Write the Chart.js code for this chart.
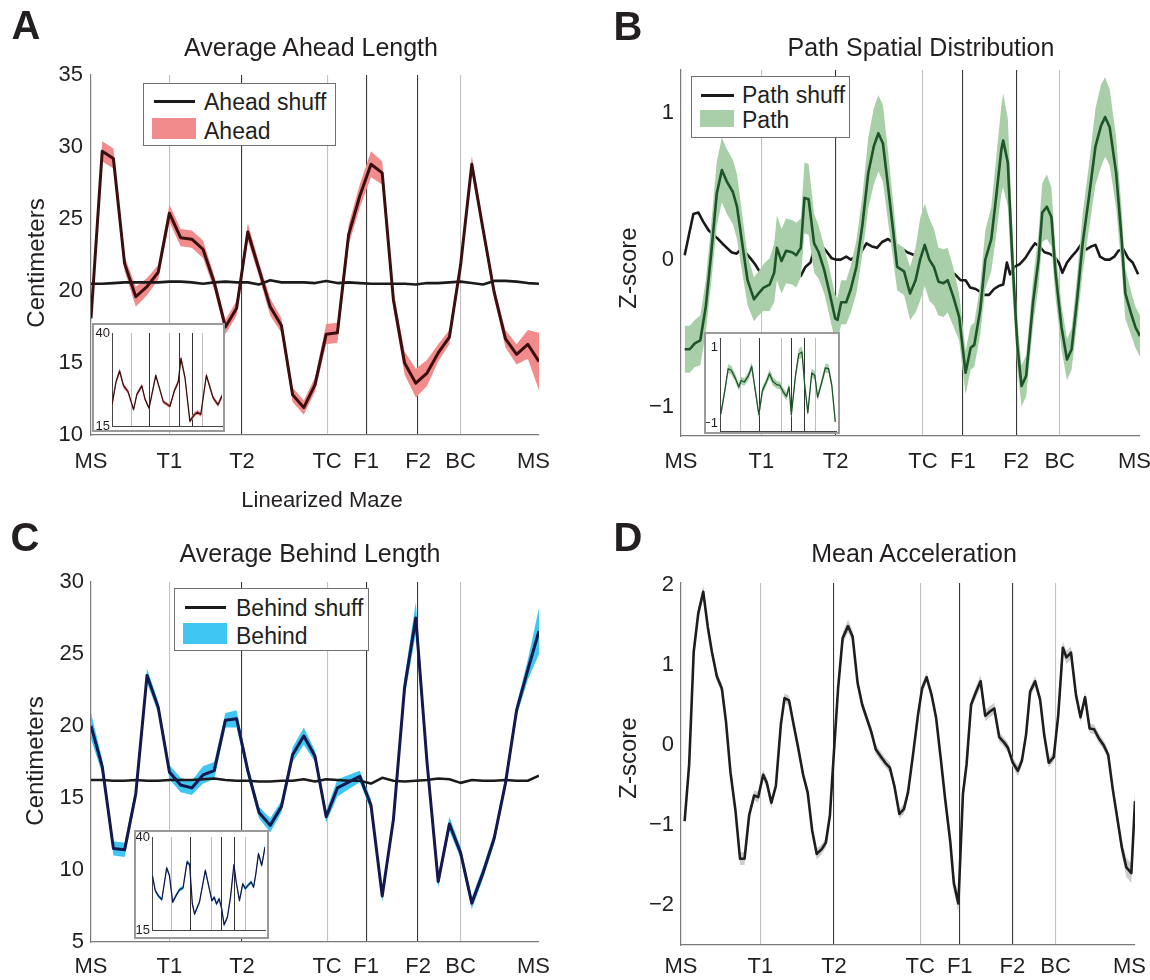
<!DOCTYPE html>
<html lang="en">
<head>
<meta charset="utf-8">
<title>Linearized maze summary</title>
<script src="https://cdn.jsdelivr.net/npm/chart.js@4.4.1/dist/chart.umd.min.js"></script>
<style>
  html, body { margin: 0; padding: 0; background: #fff; }
  #fig { position: relative; width: 1150px; height: 980px; overflow: hidden; background: #fff;
         font-family: "Liberation Sans", Arial, Helvetica, sans-serif; color: #231f20; }
  #fig > canvas { position: absolute; }
  .txt { position: absolute; line-height: 1; white-space: nowrap; transform: translate(-50%, -50%); }
  .letter { font-weight: bold; font-size: 40px; }
  .ptitle { font-size: 25px; }
  .ytitle { font-size: 24px; transform: translate(-50%, -50%) rotate(-90deg); }
  .xtitle { font-size: 22px; }
  .legend { position: absolute; box-sizing: border-box; border: 1.5px solid #707070; background: #fff; }
  .legend .s { position: absolute; }
  .legend .t { position: absolute; font-size: 23px; line-height: 1; white-space: nowrap; transform: translateY(-50%); }
  .inset { position: absolute; box-sizing: border-box; border: 2px solid #9a9a9a; background: #fff; }
  .inset canvas { position: absolute; left: 0; top: 0; }
</style>
</head>
<body>
<div id="fig">
  <canvas id="chartA" width="575" height="510" style="left:0px;top:0px"></canvas>
  <canvas id="chartB" width="575" height="490" style="left:575px;top:0px"></canvas>
  <canvas id="chartC" width="575" height="475" style="left:0px;top:505px"></canvas>
  <canvas id="chartD" width="575" height="475" style="left:575px;top:505px"></canvas>

  <div class="inset" style="left:92px;top:323px;width:133px;height:109px"><canvas id="insetA" width="129" height="105"></canvas></div>
  <div class="inset" style="left:704px;top:332px;width:136px;height:102px"><canvas id="insetB" width="132" height="98"></canvas></div>
  <div class="inset" style="left:134px;top:830px;width:135px;height:109px"><canvas id="insetC" width="131" height="105"></canvas></div>

  <div class="txt letter" style="left:26px;top:25px">A</div>
  <div class="txt letter" style="left:628px;top:26px">B</div>
  <div class="txt letter" style="left:25px;top:537px">C</div>
  <div class="txt letter" style="left:628px;top:537px">D</div>

  <div class="txt ptitle" style="left:311px;top:47px">Average Ahead Length</div>
  <div class="txt ptitle" style="left:921px;top:47px">Path Spatial Distribution</div>
  <div class="txt ptitle" style="left:310px;top:553px">Average Behind Length</div>
  <div class="txt ptitle" style="left:914px;top:553px">Mean Acceleration</div>

  <div class="txt ytitle" style="left:36px;top:263px">Centimeters</div>
  <div class="txt ytitle" style="left:628px;top:268px">Z-score</div>
  <div class="txt ytitle" style="left:35px;top:761px">Centimeters</div>
  <div class="txt ytitle" style="left:628px;top:758px">Z-score</div>
  <div class="txt xtitle" style="left:322px;top:500px">Linearized Maze</div>

  <div class="legend" style="left:143px;top:83px;width:193px;height:63px">
    <span class="s" style="left:10px;top:16px;width:41px;height:3px;background:#1a1a1a"></span>
    <span class="t" style="left:60px;top:18px">Ahead shuff</span>
    <span class="s" style="left:8px;top:34px;width:44px;height:21px;background:#f28b8b"></span>
    <span class="t" style="left:60px;top:47px">Ahead</span>
  </div>
  <div class="legend" style="left:691px;top:76px;width:159px;height:62px">
    <span class="s" style="left:9px;top:17px;width:33px;height:3px;background:#1a1a1a"></span>
    <span class="t" style="left:50px;top:18px">Path shuff</span>
    <span class="s" style="left:8px;top:33px;width:34px;height:17px;background:#a9cfa9"></span>
    <span class="t" style="left:50px;top:43px">Path</span>
  </div>
  <div class="legend" style="left:174px;top:588px;width:195px;height:63px">
    <span class="s" style="left:10px;top:17px;width:41px;height:3px;background:#1a1a1a"></span>
    <span class="t" style="left:61px;top:19px">Behind shuff</span>
    <span class="s" style="left:8px;top:34px;width:44px;height:21px;background:#3fc6f3"></span>
    <span class="t" style="left:61px;top:47px">Behind</span>
  </div>
</div>

<script>
// ---- maze landmarks (percent of the linearized track) ----
const landmarkPos    = [0, 17.5, 33.7, 52.7, 61.4, 73.0, 82.5, 100];
const landmarkLabels = ['MS', 'T1', 'T2', 'TC', 'F1', 'F2', 'BC', 'MS'];
const landmarkDark   = [false, false, true, false, true, true, false, false];

// ---- A: average ahead length (cm), 41 spatial bins ----
const aheadMean  = [18.1,29.7,29.2,21.9,19.6,20.3,21.3,25.4,23.7,23.6,
                    22.9,20.6,17.5,18.8,24.1,21.5,18.9,17.6,12.8,11.9,
                    13.5,17.0,17.1,23.9,26.6,28.8,28.2,19.4,15.0,13.6,
                    14.3,15.7,16.8,21.8,28.8,24.3,19.9,16.7,15.6,16.3,15.1];
const aheadErr   = [0.3,0.7,0.7,0.5,0.7,0.6,0.5,0.6,0.6,0.6,
                    0.6,0.5,0.5,0.5,0.6,0.5,0.6,0.5,0.5,0.5,
                    0.5,0.7,0.7,0.7,0.8,0.9,0.8,0.6,0.8,1.0,
                    0.9,0.6,0.5,0.4,0.6,0.4,0.4,0.6,0.7,1.0,2.0];
const aheadShuff = [20.5,20.5,20.55,20.6,20.6,20.6,20.6,20.65,20.65,20.6,
                    20.5,20.6,20.65,20.6,20.6,20.45,20.75,20.6,20.6,20.6,
                    20.55,20.7,20.55,20.6,20.55,20.5,20.5,20.5,20.5,20.45,
                    20.55,20.55,20.6,20.65,20.55,20.45,20.7,20.7,20.65,20.55,20.5];

// ---- B: path spatial distribution (z-score) ----
const pathPos  = [0.8,1.9,3.0,4.2,5.4,6.6,7.8,8.9,10.0,11.3,
                  12.2,13.2,14.5,15.9,16.9,18.0,19.3,20.3,20.9,21.9,
                  22.9,24.2,25.1,26.1,26.9,27.8,29.0,30.0,31.2,32.4,
                  33.6,34.1,34.9,36.0,37.0,38.2,39.5,40.8,42.0,43.0,
                  44.0,45.1,46.1,47.1,48.6,49.9,51.1,52.1,53.1,54.1,
                  55.1,56.1,57.2,58.1,59.3,60.6,62.0,63.1,63.9,65.2,
                  66.3,67.6,68.6,69.8,70.2,71.2,72.2,73.3,74.2,75.2,
                  76.7,77.9,78.7,79.7,80.7,81.6,82.9,84.1,85.1,86.3,
                  87.5,88.9,90.3,91.5,92.4,93.4,94.8,96.0,96.8,98.0,99.0,100];
const pathMean = [-0.61,-0.61,-0.57,-0.55,-0.32,0.05,0.45,0.61,0.53,0.46,
                  0.36,0.14,-0.14,-0.27,-0.23,-0.19,-0.17,-0.09,0.08,-0.01,
                  0.06,0.05,0.03,0.08,0.42,0.41,0.11,0.05,-0.07,-0.23,
                  -0.40,-0.41,-0.29,-0.29,-0.20,-0.05,0.23,0.59,0.77,0.86,
                  0.79,0.50,0.23,-0.05,-0.08,-0.23,-0.14,0.0,0.10,0.0,
                  -0.05,-0.15,-0.16,-0.14,-0.25,-0.39,-0.77,-0.60,-0.58,-0.34,
                  0.0,0.14,0.41,0.75,0.81,0.66,0.0,-0.59,-0.86,-0.79,
                  -0.29,0.0,0.32,0.36,0.29,-0.09,-0.46,-0.68,-0.61,-0.27,
                  0.11,0.43,0.77,0.91,0.97,0.90,0.59,0.14,-0.23,-0.36,-0.46,-0.52];
const pathErr  = [0.16,0.16,0.16,0.17,0.18,0.2,0.22,0.22,0.22,0.22,
                  0.22,0.2,0.17,0.15,0.15,0.16,0.18,0.2,0.22,0.22,
                  0.22,0.22,0.22,0.2,0.24,0.24,0.2,0.18,0.16,0.16,
                  0.16,0.15,0.15,0.15,0.16,0.18,0.2,0.24,0.26,0.26,
                  0.26,0.24,0.2,0.16,0.16,0.18,0.22,0.28,0.28,0.28,
                  0.26,0.23,0.23,0.22,0.2,0.16,0.15,0.15,0.15,0.17,
                  0.2,0.22,0.26,0.3,0.32,0.3,0.22,0.16,0.14,0.14,
                  0.16,0.18,0.2,0.22,0.2,0.17,0.15,0.14,0.14,0.16,
                  0.2,0.22,0.26,0.28,0.27,0.26,0.24,0.2,0.17,0.15,0.14,0.14];
const pathShuffPos = [0.8,1.8,2.7,3.8,4.8,6.0,7.0,8.1,9.0,10.0,
                      11.0,12.1,13.0,14.0,15.1,16.1,17.1,19.1,21.1,23.1,
                      25.1,26.1,27.1,28.2,29.1,30.4,31.6,32.8,33.8,34.8,
                      36.0,37.0,38.0,39.2,40.4,41.6,42.7,43.8,45.1,46.9,
                      49.3,51.7,54.1,56.5,58.1,59.7,60.9,62.0,63.0,64.2,
                      65.2,66.2,67.1,68.2,69.2,70.2,71.0,71.7,72.6,73.8,
                      75.0,76.2,77.1,78.1,79.2,80.3,81.3,82.3,83.1,84.1,
                      85.1,86.2,87.1,88.3,89.4,90.3,91.3,92.4,93.4,94.4,
                      95.3,96.4,97.4,98.4,99.6];
const pathShuff = [0.03,0.18,0.31,0.32,0.26,0.20,0.17,0.14,0.11,0.08,
                   0.05,0.04,0.07,0.05,0.01,-0.03,-0.08,-0.10,-0.12,-0.13,
                   -0.12,-0.11,-0.05,-0.02,0.08,0.10,0.06,0.01,0.0,0.0,
                   0.02,0.0,0.02,0.05,0.11,0.09,0.08,0.12,0.14,0.10,
                   0.05,0.02,-0.02,-0.05,-0.08,-0.10,-0.14,-0.14,-0.19,-0.20,
                   -0.22,-0.24,-0.24,-0.20,-0.18,-0.17,-0.02,-0.10,-0.05,-0.03,
                   0.01,0.07,0.11,0.09,0.05,0.04,0.02,-0.02,-0.09,-0.02,
                   0.02,0.06,0.10,0.07,0.09,0.10,0.02,0.0,0.0,0.02,
                   0.06,0.07,0.01,-0.02,-0.10];

// ---- C: average behind length (cm), 41 spatial bins ----
const behindMean  = [20.0,17.2,11.5,11.4,15.3,23.5,21.3,16.8,15.9,15.7,
                     16.6,16.9,20.4,20.5,16.9,14.0,13.1,14.4,18.0,19.3,
                     17.9,13.7,15.7,16.1,16.5,14.5,8.2,13.5,22.7,27.5,
                     17.5,9.2,13.2,11.2,7.7,9.8,12.2,16.0,21.1,23.9,26.6];
const behindErr   = [0.9,0.5,0.5,0.5,0.4,0.5,0.4,0.5,0.5,0.5,
                     0.6,0.6,0.5,0.6,0.4,0.4,0.5,0.4,0.5,0.6,
                     0.4,0.4,0.6,0.5,0.4,0.4,0.4,0.4,0.7,1.1,
                     0.5,0.4,0.5,0.4,0.4,0.4,0.4,0.4,0.4,0.7,1.6];
const behindShuff = [16.25,16.25,16.2,16.2,16.25,16.2,16.2,16.25,16.25,16.25,
                     16.3,16.35,16.25,16.2,16.2,16.15,16.15,16.2,16.2,16.3,
                     16.15,16.3,16.25,16.2,16.2,16.0,16.4,16.2,16.15,16.2,
                     16.25,16.35,16.3,16.05,16.25,16.2,16.2,16.25,16.2,16.2,16.55];

// ---- D: mean acceleration (z-score) ----
const accelPos  = [0.8,1.8,2.8,3.8,4.9,5.9,6.8,7.9,9.0,9.9,
                   10.9,12.0,13.0,14.0,15.0,16.1,17.0,18.1,18.9,19.9,
                   20.9,22.0,22.8,23.8,24.8,25.8,26.9,27.9,28.9,29.9,
                   31.0,31.9,32.8,33.6,34.6,35.6,36.8,37.8,38.9,39.9,
                   40.9,41.9,42.9,44.0,45.0,46.0,47.0,48.1,49.1,50.0,
                   51.1,52.2,53.1,54.1,55.2,56.2,57.2,58.2,59.3,60.1,
                   61.1,62.1,62.9,63.9,65.0,66.0,67.0,68.0,69.0,70.1,
                   71.1,72.0,73.1,74.2,75.1,76.0,76.9,78.0,79.1,80.0,
                   81.0,82.1,83.1,84.1,84.9,85.9,87.0,88.0,89.0,90.0,
                   91.0,92.1,93.1,94.1,95.1,96.2,97.1,98.1,99.2,100];
const accelMean = [-0.95,-0.24,1.17,1.65,1.92,1.48,1.17,0.86,0.71,0.30,
                   -0.34,-0.82,-1.42,-1.42,-0.88,-0.63,-0.65,-0.37,-0.47,-0.72,
                   -0.51,0.26,0.59,0.56,0.26,-0.03,-0.37,-0.59,-1.07,-1.36,
                   -1.30,-1.22,-0.88,-0.16,0.71,1.34,1.49,1.36,0.78,0.51,
                   0.34,0.17,-0.05,-0.14,-0.22,-0.28,-0.51,-0.86,-0.80,-0.59,
                   -0.12,0.38,0.71,0.85,0.63,0.34,-0.16,-0.68,-1.20,-1.73,
                   -1.98,-0.61,-0.24,0.51,0.67,0.80,0.37,0.42,0.46,0.10,
                   0.04,-0.03,-0.22,-0.32,-0.19,0.13,0.67,0.80,0.57,0.13,
                   -0.22,-0.15,0.38,1.22,1.10,1.16,0.63,0.35,0.60,0.21,
                   0.20,0.08,0.0,-0.12,-0.55,-0.95,-1.28,-1.53,-1.60,-0.70];
const accelErr  = [0.08,0.06,0.07,0.07,0.08,0.07,0.06,0.06,0.06,0.06,
                   0.06,0.07,0.08,0.08,0.07,0.06,0.07,0.06,0.07,0.07,
                   0.06,0.06,0.06,0.06,0.06,0.06,0.06,0.06,0.07,0.07,
                   0.06,0.06,0.06,0.06,0.06,0.07,0.08,0.07,0.06,0.06,
                   0.06,0.06,0.06,0.06,0.06,0.06,0.06,0.06,0.06,0.06,
                   0.06,0.06,0.06,0.06,0.06,0.06,0.06,0.07,0.08,0.1,
                   0.12,0.08,0.07,0.06,0.07,0.08,0.07,0.07,0.07,0.06,
                   0.06,0.06,0.06,0.07,0.06,0.06,0.06,0.07,0.06,0.06,
                   0.06,0.06,0.07,0.08,0.08,0.08,0.07,0.06,0.07,0.06,
                   0.06,0.06,0.06,0.06,0.07,0.08,0.1,0.12,0.12,0.15];

// ---- insets ----
const insetAheadPos = [0,3.6,6.9,10.5,14.5,19.6,22.6,27.1,30.1,33.7,39.8,46.7,52.7,
                       56.6,60.2,62.7,66.3,70.8,74.7,77.7,80.7,85.8,91.9,96.4,100];
const insetAheadVal = [20.7,26.8,29.8,25.8,24.3,19.4,23.5,25.8,22.1,19.8,28.6,21.5,20.3,
                       24.4,26.8,33.2,28.1,16.3,18.0,18.7,18.1,28.6,22.6,20.7,23.1];
const insetAheadErr = [0.5,0.6,0.8,0.7,0.6,0.5,0.6,0.6,0.5,0.5,0.6,0.5,0.5,
                       0.6,0.8,0.9,0.7,0.6,0.6,0.6,0.6,0.7,0.6,0.6,0.8];

const insetPathPos = [0.8,4.2,7.0,9.8,13.4,16.2,18.2,20.9,24.6,27.4,30.2,33.5,36.6,39.9,42.7,45.5,48.9,51.7,
                      54.5,57.3,59.5,61.5,65.1,67.9,70.7,72.9,75.7,79.1,81.8,84.1,87.4,90.8,93.6,96.4,99.4];
const insetPathVal = [-0.75,-0.14,0.43,0.39,0.17,-0.05,0.12,0.08,0.25,0.49,-0.10,-0.78,-0.14,0.08,0.30,0.10,0.01,-0.01,
                      -0.18,-0.30,-0.05,-0.78,0.25,0.82,0.87,0.04,-0.73,0.32,0.25,-0.32,0.04,0.45,0.43,-0.01,-0.97];
const insetPathErr = [0.1,0.1,0.12,0.12,0.1,0.1,0.1,0.1,0.11,0.12,0.1,0.1,0.1,0.1,0.12,0.11,0.1,0.1,
                      0.1,0.11,0.1,0.1,0.11,0.14,0.15,0.1,0.1,0.12,0.11,0.1,0.1,0.12,0.12,0.1,0.12];

const insetBehindPos = [0.3,2.9,5.8,8.7,13.0,15.4,18.3,21.7,24.6,27.5,31.0,33.3,35.7,37.7,42.0,47.2,50.7,53.0,55.1,
                        57.1,59.4,61.7,63.8,66.7,69.6,72.5,74.5,77.4,80.3,82.6,84.9,87.8,89.9,91.9,94.2,97.1,100];
const insetBehindVal = [29.7,25.6,24.1,23.2,31.7,29.7,22.5,24.5,25.9,26.3,33.3,32.6,22.0,19.3,22.5,31.0,26.1,22.9,23.8,
                        22.0,23.4,20.7,16.4,18.4,24.1,32.6,27.9,22.9,27.4,26.1,27.0,27.9,26.5,30.1,35.5,32.4,37.3];
const insetBehindErr = [0.6,0.5,0.5,0.5,0.6,0.5,0.5,0.5,0.5,0.5,0.6,0.6,0.5,0.5,0.5,0.6,0.5,0.5,0.5,
                        0.5,0.5,0.5,0.5,0.5,0.5,0.6,0.5,0.5,0.5,0.5,0.5,0.5,0.5,0.6,0.7,0.7,0.8];

// ---- y tick sets ----
const aheadTicks  = [10, 15, 20, 25, 30, 35];
const pathTicks   = [-1, 0, 1];
const behindTicks = [5, 10, 15, 20, 25, 30];
const accelTicks  = [-2, -1, 0, 1, 2];
const insetCmTicks = [15, 40];
const insetZTicks  = [-1, 1];

// ---- drawing helpers ----
const INK = '#231f20';
const SHUFF = '#1a1a1a';
Chart.defaults.font.family = '"Liberation Sans", Arial, Helvetica, sans-serif';
Chart.defaults.color = INK;

const binPos = n => Array.from({ length: n }, (_, i) => i * 100 / (n - 1));
const pts = (pos, vals) => pos.map((p, i) => ({ x: p, y: vals[i] }));
const fmt = v => (v < 0 ? '\u2212' + Math.abs(v) : String(v));
// the closing landmark label is nudged inward so it stays inside the figure edge
const xLabel = i => (i === landmarkLabels.length - 1 ? landmarkLabels[i] + '\u2002' : landmarkLabels[i]);

function lineDs(pos, vals, color, width, order) {
  return { data: pts(pos, vals), borderColor: color, borderWidth: width, fill: false, pointRadius: 0, order };
}
function bandDs(pos, vals, err, color, order) {
  return [
    { data: pos.map((p, i) => ({ x: p, y: vals[i] + err[i] })), borderWidth: 0, borderColor: 'rgba(0,0,0,0)',
      backgroundColor: color, fill: '+1', pointRadius: 0, order },
    { data: pos.map((p, i) => ({ x: p, y: vals[i] - err[i] })), borderWidth: 0, borderColor: 'rgba(0,0,0,0)',
      fill: false, pointRadius: 0, order: order + 1 }
  ];
}

// rect: canvas box in page pixels; area: wanted plot area in page pixels
function buildPanel(id, rect, area, y, x, datasets) {
  const yWidth = area.l - rect.x;
  const xHeight = rect.y + rect.h - area.b;
  return new Chart(document.getElementById(id), {
    type: 'line',
    data: { datasets },
    options: {
      responsive: false, animation: false, devicePixelRatio: 1, events: [],
      layout: { padding: { left: 0, top: area.t - rect.y, right: rect.x + rect.w - area.r, bottom: 0 } },
      plugins: { legend: { display: false }, tooltip: { enabled: false }, title: { display: false } },
      elements: { point: { radius: 0 }, line: { tension: 0, borderJoinStyle: 'round' } },
      scales: {
        x: {
          type: 'linear', min: 0, max: 100,
          afterBuildTicks: s => { s.ticks = landmarkPos.map(v => ({ value: v })); },
          afterFit: s => { s.height = xHeight; s.paddingLeft = 0; s.paddingRight = 0; },
          ticks: { display: x.labels, autoSkip: false, maxRotation: 0, minRotation: 0,
                   padding: x.pad || 0, color: INK, font: { size: x.size || 22 },
                   callback: (v, i) => xLabel(i) },
          grid: { drawTicks: false, lineWidth: x.gridWidth,
                  color: c => (c.index === 0 || c.index === landmarkPos.length - 1) ? 'rgba(0,0,0,0)'
                              : (landmarkDark[c.index] ? x.dark : x.light) },
          border: { color: x.axis, width: x.axisWidth }
        },
        y: {
          type: 'linear', min: y.min, max: y.max,
          afterBuildTicks: s => { s.ticks = y.ticks.map(v => ({ value: v })); },
          afterFit: s => { s.width = yWidth; s.paddingTop = 0; s.paddingBottom = 0; },
          ticks: { padding: y.pad, color: INK, font: { size: y.size }, callback: v => fmt(v) },
          grid: { display: false, drawTicks: false },
          border: { color: x.axis, width: x.axisWidth }
        }
      }
    }
  });
}

const mainX = pad => ({ labels: true, pad, size: 22, gridWidth: 1.1, dark: '#3a3a3a', light: '#c2c2c2', axis: '#7a7a7a', axisWidth: 1.2 });
const insetX = { labels: false, gridWidth: 1, dark: '#333333', light: '#bdbdbd', axis: '#444444', axisWidth: 1 };

// A
buildPanel('chartA', { x: 0, y: 0, w: 575, h: 510 }, { l: 91, t: 75, r: 539, b: 435 },
  { min: 10, max: 35, ticks: aheadTicks, pad: 8, size: 22 }, mainX(14),
  [ lineDs(binPos(aheadMean.length), aheadMean, '#3b0f10', 3, 0),
    lineDs(binPos(aheadShuff.length), aheadShuff, SHUFF, 2.6, 1),
    ...bandDs(binPos(aheadMean.length), aheadMean, aheadErr, '#f28b8b', 2) ]);

// B (shuffle curve sits underneath the shaded band)
buildPanel('chartB', { x: 575, y: 0, w: 575, h: 490 }, { l: 681, t: 70, r: 1140, b: 436 },
  { min: -1.2, max: 1.29, ticks: pathTicks, pad: 7, size: 22 }, mainX(13),
  [ lineDs(pathPos, pathMean, '#1d5428', 2.6, 0),
    ...bandDs(pathPos, pathMean, pathErr, '#a9cfa9', 1),
    lineDs(pathShuffPos, pathShuff, SHUFF, 2.6, 3) ]);

// C
buildPanel('chartC', { x: 0, y: 505, w: 575, h: 475 }, { l: 91, t: 582, r: 539, b: 942 },
  { min: 5, max: 30, ticks: behindTicks, pad: 7, size: 22 }, mainX(12),
  [ lineDs(binPos(behindMean.length), behindMean, '#15184e', 3, 0),
    lineDs(binPos(behindShuff.length), behindShuff, SHUFF, 2.6, 1),
    ...bandDs(binPos(behindMean.length), behindMean, behindErr, '#3fc6f3', 2) ]);

// D
buildPanel('chartD', { x: 575, y: 505, w: 575, h: 475 }, { l: 681, t: 583, r: 1135, b: 945 },
  { min: -2.5, max: 2.03, ticks: accelTicks, pad: 7, size: 22 }, mainX(9),
  [ lineDs(accelPos, accelMean, '#1e1e1e', 2.6, 0),
    ...bandDs(accelPos, accelMean, accelErr, '#cdcdcd', 1) ]);

// insets (canvas origin sits 2px inside the bordered box)
buildPanel('insetA', { x: 94, y: 325, w: 129, h: 105 }, { l: 112, t: 333, r: 222, b: 426 },
  { min: 15, max: 40, ticks: insetCmTicks, pad: 2, size: 13 }, insetX,
  [ lineDs(insetAheadPos, insetAheadVal, '#3b0f10', 1.3, 0),
    ...bandDs(insetAheadPos, insetAheadVal, insetAheadErr, '#f28b8b', 1) ]);

buildPanel('insetB', { x: 706, y: 334, w: 132, h: 98 }, { l: 720, t: 338, r: 836, b: 431 },
  { min: -1.21, max: 1.24, ticks: insetZTicks, pad: 2, size: 13 }, insetX,
  [ lineDs(insetPathPos, insetPathVal, '#1d5428', 1.3, 0),
    ...bandDs(insetPathPos, insetPathVal, insetPathErr, '#a9cfa9', 1) ]);

buildPanel('insetC', { x: 136, y: 832, w: 131, h: 105 }, { l: 152, t: 837, r: 265, b: 930 },
  { min: 15, max: 40, ticks: insetCmTicks, pad: 2, size: 13 }, insetX,
  [ lineDs(insetBehindPos, insetBehindVal, '#15184e', 1.3, 0),
    ...bandDs(insetBehindPos, insetBehindVal, insetBehindErr, '#3fc6f3', 1) ]);
</script>
</body>
</html>
